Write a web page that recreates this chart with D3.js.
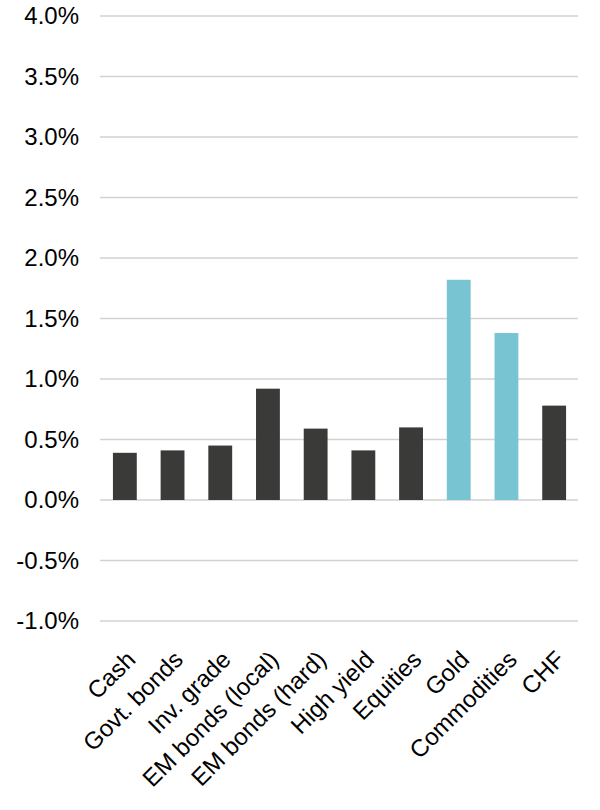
<!DOCTYPE html>
<html>
<head>
<meta charset="utf-8">
<script src="https://cdn.jsdelivr.net/npm/d3@7/dist/d3.min.js"></script>
<style>
  html, body { margin: 0; padding: 0; background: #ffffff; }
  svg { display: block; }
  text { font-family: "Liberation Sans", Arial, sans-serif; }
</style>
</head>
<body>
<svg id="chart" width="600" height="810"></svg>
<script>
const categories = ["Cash", "Govt. bonds", "Inv. grade", "EM bonds (local)", "EM bonds (hard)", "High yield", "Equities", "Gold", "Commodities", "CHF"];
const values = [0.39, 0.41, 0.45, 0.92, 0.59, 0.41, 0.60, 1.82, 1.38, 0.78];
const highlighted = ["Gold", "Commodities"];
const yTicks = [-1.0, -0.5, 0.0, 0.5, 1.0, 1.5, 2.0, 2.5, 3.0, 3.5, 4.0];

const svg = d3.select("#chart");
const plot = { left: 101, right: 578, top: 16, bottom: 621 };

const x = d3.scaleBand()
  .domain(categories)
  .range([plot.left, plot.right])
  .paddingInner(0.5)
  .paddingOuter(0.25);

const y = d3.scaleLinear()
  .domain([-1.0, 4.0])
  .range([plot.bottom, plot.top]);

// gridlines
svg.append("g")
  .selectAll("line")
  .data(yTicks)
  .join("line")
  .attr("x1", plot.left - 1)
  .attr("x2", plot.right)
  .attr("y1", d => y(d))
  .attr("y2", d => y(d))
  .attr("stroke", "#d2d2d2")
  .attr("stroke-width", 1.5);

// y axis labels
const yAxis = d3.axisLeft(y)
  .tickValues(yTicks)
  .tickFormat(d => (d < 0 ? "-" : "") + Math.abs(d).toFixed(1) + "%")
  .tickSize(0)
  .tickPadding(0);

const yg = svg.append("g")
  .attr("transform", `translate(${79},0)`)
  .call(yAxis);
yg.select(".domain").remove();
yg.selectAll("text")
  .attr("font-size", 24)
  .attr("fill", "#000")
  .style("font-family", '"Liberation Sans", Arial, sans-serif');

// bars
svg.append("g")
  .selectAll("rect")
  .data(categories.map((c, i) => ({ c, v: values[i] })))
  .join("rect")
  .attr("x", d => x(d.c))
  .attr("width", x.bandwidth())
  .attr("y", d => y(Math.max(0, d.v)))
  .attr("height", d => Math.abs(y(d.v) - y(0)))
  .attr("fill", d => highlighted.includes(d.c) ? "#79c4d3" : "#3a3b39");

// x labels, rotated -45°
svg.append("g")
  .selectAll("g")
  .data(categories)
  .join("g")
  .attr("transform", d => `translate(${x(d) + x.bandwidth() / 2 + 12},661) rotate(-45)`)
  .append("text")
  .attr("text-anchor", "end")
  .attr("font-size", 24)
  .attr("fill", "#000")
  .text(d => d);
</script>
</body>
</html>
